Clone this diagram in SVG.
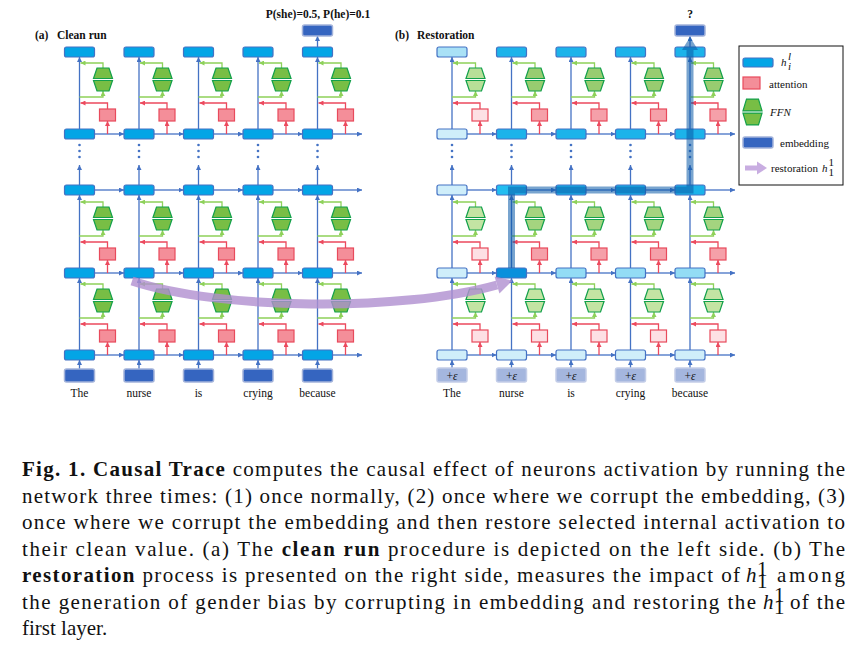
<svg xmlns="http://www.w3.org/2000/svg" xmlns:xlink="http://www.w3.org/1999/xlink" width="863" height="652" viewBox="0 0 863 652">
<style>
.cb{stroke:#4472c4;stroke-width:1.3;fill:none;marker-end:url(#ab)}
.cr{stroke:#ec4a5e;stroke-width:1.3;fill:none;marker-end:url(#ar)}
.cg{stroke:#8ed15a;stroke-width:1.3;fill:none;marker-end:url(#ag)}
.h{stroke:#4472c4;stroke-width:1.2}
.hL{fill:#03a5e6}.hR{fill:#1cb3ea}.hP{fill:#cfeefa}.hA{fill:#a9e1f6}.hM{fill:#93dcf5}.hS{fill:#0a90dc}.hC{fill:#22bdf0}
.emb{fill:#3565c0;stroke:#a3b3da;stroke-width:1.5}
.eps{fill:#a4b6de;stroke:#c3cde8;stroke-width:1.5}
.att{stroke:#e84a5c;stroke-width:1.2}
.aL{fill:#f48e99}.aP{fill:#fde0e4}.aM{fill:#f5a0a9}
.ffn{stroke:#12a04a;stroke-width:1.2}
.fL{fill:#78be45}.fP{fill:#c3e4a3}.fM{fill:#a4d47f}.fT{fill:#b8df98}.fN{fill:#98cc70}
.dot{fill:#4472c4}
.lbl{font-family:"Liberation Serif",serif;font-size:11.5px;fill:#111;text-anchor:middle}
.ttl{font-family:"Liberation Serif",serif;font-size:11.5px;font-weight:bold;fill:#111}
.lg{font-family:"Liberation Serif",serif;font-size:11px;fill:#111}
.cap{font-family:"Liberation Serif",serif;font-size:21px;fill:#111}
.b{font-weight:bold}
.i{font-style:italic}
</style>
<defs>
<marker id="ab" viewBox="0 0 6 6" refX="6" refY="3" markerWidth="5" markerHeight="5" markerUnits="userSpaceOnUse" orient="auto"><path d="M0,0L6,3L0,6z" fill="#4472c4"/></marker>
<marker id="ar" viewBox="0 0 6 6" refX="6" refY="3" markerWidth="5" markerHeight="5" markerUnits="userSpaceOnUse" orient="auto"><path d="M0,0L6,3L0,6z" fill="#ec4a5e"/></marker>
<marker id="ag" viewBox="0 0 6 6" refX="6" refY="3" markerWidth="5" markerHeight="5" markerUnits="userSpaceOnUse" orient="auto"><path d="M0,0L6,3L0,6z" fill="#8ed15a"/></marker>
<path id="ffn" d="M-6,-11.5H6L9.5,-1H-9.5Z M-9.5,1H9.5L6,11.5H-6Z"/>
</defs>
<rect width="863" height="652" fill="#fff"/>

<!-- titles -->
<text class="ttl" x="35" y="39">(a)</text><text class="ttl" x="57" y="39">Clean run</text>
<text class="ttl" x="395" y="39">(b)</text><text class="ttl" x="417" y="39">Restoration</text>
<text class="ttl" x="318" y="18" text-anchor="middle" font-size="11">P(she)=0.5, P(he)=0.1</text>
<text class="ttl" x="690" y="18" text-anchor="middle">?</text>

<g id="connectors">
<!-- left verticals -->
<path class="cb" d="M79.5 369V360"/><path class="cb" d="M79.5 350V278"/><path class="cb" d="M79.5 268V195"/><path class="cb" d="M79.5 185V165"/><path class="cb" d="M79.5 129V57"/>
<path class="cb" d="M139 369V360"/><path class="cb" d="M139 350V278"/><path class="cb" d="M139 268V195"/><path class="cb" d="M139 185V165"/><path class="cb" d="M139 129V57"/>
<path class="cb" d="M198.5 369V360"/><path class="cb" d="M198.5 350V278"/><path class="cb" d="M198.5 268V195"/><path class="cb" d="M198.5 185V165"/><path class="cb" d="M198.5 129V57"/>
<path class="cb" d="M258 369V360"/><path class="cb" d="M258 350V278"/><path class="cb" d="M258 268V195"/><path class="cb" d="M258 185V165"/><path class="cb" d="M258 129V57"/>
<path class="cb" d="M317.5 369V360"/><path class="cb" d="M317.5 350V278"/><path class="cb" d="M317.5 268V195"/><path class="cb" d="M317.5 185V165"/><path class="cb" d="M317.5 129V57"/><path class="cb" d="M317.5 47V36"/>
<!-- left horizontals -->
<path class="cb" d="M94.5 134H124"/><path class="cb" d="M154 134H183.5"/><path class="cb" d="M213.5 134H243"/><path class="cb" d="M273 134H302.5"/><path class="cb" d="M332.5 134H362"/>
<path class="cb" d="M94.5 190H124"/><path class="cb" d="M154 190H183.5"/><path class="cb" d="M213.5 190H243"/><path class="cb" d="M273 190H302.5"/><path class="cb" d="M332.5 190H362"/>
<path class="cb" d="M94.5 273H124"/><path class="cb" d="M154 273H183.5"/><path class="cb" d="M213.5 273H243"/><path class="cb" d="M273 273H302.5"/><path class="cb" d="M332.5 273H362"/>
<path class="cb" d="M94.5 355H124"/><path class="cb" d="M154 355H183.5"/><path class="cb" d="M213.5 355H243"/><path class="cb" d="M273 355H302.5"/><path class="cb" d="M332.5 355H362"/>
<!-- left layer connectors col1 -->
<path class="cr" d="M107.5 355V342"/><path class="cr" d="M107.5 330V324H80.5"/><path class="cg" d="M79.5 318H103V312"/><path class="cg" d="M103 289V284H80.5"/>
<path class="cr" d="M107.5 273V260"/><path class="cr" d="M107.5 248V242H80.5"/><path class="cg" d="M79.5 236H103V230"/><path class="cg" d="M103 207V202H80.5"/>
<path class="cr" d="M107.5 134V121"/><path class="cr" d="M107.5 109V103H80.5"/><path class="cg" d="M79.5 97H103V91"/><path class="cg" d="M103 68V63H80.5"/>
<!-- col2 -->
<path class="cr" d="M167 355V342"/><path class="cr" d="M167 330V324H140"/><path class="cg" d="M139 318H162.5V312"/><path class="cg" d="M162.5 289V284H140"/>
<path class="cr" d="M167 273V260"/><path class="cr" d="M167 248V242H140"/><path class="cg" d="M139 236H162.5V230"/><path class="cg" d="M162.5 207V202H140"/>
<path class="cr" d="M167 134V121"/><path class="cr" d="M167 109V103H140"/><path class="cg" d="M139 97H162.5V91"/><path class="cg" d="M162.5 68V63H140"/>
<!-- col3 -->
<path class="cr" d="M226.5 355V342"/><path class="cr" d="M226.5 330V324H199.5"/><path class="cg" d="M198.5 318H222V312"/><path class="cg" d="M222 289V284H199.5"/>
<path class="cr" d="M226.5 273V260"/><path class="cr" d="M226.5 248V242H199.5"/><path class="cg" d="M198.5 236H222V230"/><path class="cg" d="M222 207V202H199.5"/>
<path class="cr" d="M226.5 134V121"/><path class="cr" d="M226.5 109V103H199.5"/><path class="cg" d="M198.5 97H222V91"/><path class="cg" d="M222 68V63H199.5"/>
<!-- col4 -->
<path class="cr" d="M286 355V342"/><path class="cr" d="M286 330V324H259"/><path class="cg" d="M258 318H281.5V312"/><path class="cg" d="M281.5 289V284H259"/>
<path class="cr" d="M286 273V260"/><path class="cr" d="M286 248V242H259"/><path class="cg" d="M258 236H281.5V230"/><path class="cg" d="M281.5 207V202H259"/>
<path class="cr" d="M286 134V121"/><path class="cr" d="M286 109V103H259"/><path class="cg" d="M258 97H281.5V91"/><path class="cg" d="M281.5 68V63H259"/>
<!-- col5 -->
<path class="cr" d="M345.5 355V342"/><path class="cr" d="M345.5 330V324H318.5"/><path class="cg" d="M317.5 318H341V312"/><path class="cg" d="M341 289V284H318.5"/>
<path class="cr" d="M345.5 273V260"/><path class="cr" d="M345.5 248V242H318.5"/><path class="cg" d="M317.5 236H341V230"/><path class="cg" d="M341 207V202H318.5"/>
<path class="cr" d="M345.5 134V121"/><path class="cr" d="M345.5 109V103H318.5"/><path class="cg" d="M317.5 97H341V91"/><path class="cg" d="M341 68V63H318.5"/>

<!-- right verticals -->
<path class="cb" d="M452 368V360"/><path class="cb" d="M452 350V278"/><path class="cb" d="M452 268V195"/><path class="cb" d="M452 185V165"/><path class="cb" d="M452 129V57"/>
<path class="cb" d="M511.5 368V360"/><path class="cb" d="M511.5 350V278"/><path class="cb" d="M511.5 268V195"/><path class="cb" d="M511.5 185V165"/><path class="cb" d="M511.5 129V57"/>
<path class="cb" d="M571 368V360"/><path class="cb" d="M571 350V278"/><path class="cb" d="M571 268V195"/><path class="cb" d="M571 185V165"/><path class="cb" d="M571 129V57"/>
<path class="cb" d="M630.5 368V360"/><path class="cb" d="M630.5 350V278"/><path class="cb" d="M630.5 268V195"/><path class="cb" d="M630.5 185V165"/><path class="cb" d="M630.5 129V57"/>
<path class="cb" d="M690 368V360"/><path class="cb" d="M690 350V278"/><path class="cb" d="M690 268V195"/><path class="cb" d="M690 185V165"/><path class="cb" d="M690 129V57"/><path class="cb" d="M690 47V36"/>
<!-- right horizontals -->
<path class="cb" d="M467 134H496.5"/><path class="cb" d="M526.5 134H556"/><path class="cb" d="M586 134H615.5"/><path class="cb" d="M645.5 134H675"/><path class="cb" d="M705 134H735"/>
<path class="cb" d="M467 190H496.5"/><path class="cb" d="M526.5 190H556"/><path class="cb" d="M586 190H615.5"/><path class="cb" d="M645.5 190H675"/><path class="cb" d="M705 190H735"/>
<path class="cb" d="M467 273H496.5"/><path class="cb" d="M526.5 273H556"/><path class="cb" d="M586 273H615.5"/><path class="cb" d="M645.5 273H675"/><path class="cb" d="M705 273H735"/>
<path class="cb" d="M467 355H496.5"/><path class="cb" d="M526.5 355H556"/><path class="cb" d="M586 355H615.5"/><path class="cb" d="M645.5 355H675"/><path class="cb" d="M705 355H735"/>
<!-- right col1 -->
<path class="cr" d="M480 355V342"/><path class="cr" d="M480 330V324H453"/><path class="cg" d="M452 318H475.5V312"/><path class="cg" d="M475.5 289V284H453"/>
<path class="cr" d="M480 273V260"/><path class="cr" d="M480 248V242H453"/><path class="cg" d="M452 236H475.5V230"/><path class="cg" d="M475.5 207V202H453"/>
<path class="cr" d="M480 134V121"/><path class="cr" d="M480 109V103H453"/><path class="cg" d="M452 97H475.5V91"/><path class="cg" d="M475.5 68V63H453"/>
<!-- right col2 -->
<path class="cr" d="M539.5 355V342"/><path class="cr" d="M539.5 330V324H512.5"/><path class="cg" d="M511.5 318H535V312"/><path class="cg" d="M535 289V284H512.5"/>
<path class="cr" d="M539.5 273V260"/><path class="cr" d="M539.5 248V242H512.5"/><path class="cg" d="M511.5 236H535V230"/><path class="cg" d="M535 207V202H512.5"/>
<path class="cr" d="M539.5 134V121"/><path class="cr" d="M539.5 109V103H512.5"/><path class="cg" d="M511.5 97H535V91"/><path class="cg" d="M535 68V63H512.5"/>
<!-- right col3 -->
<path class="cr" d="M599 355V342"/><path class="cr" d="M599 330V324H572"/><path class="cg" d="M571 318H594.5V312"/><path class="cg" d="M594.5 289V284H572"/>
<path class="cr" d="M599 273V260"/><path class="cr" d="M599 248V242H572"/><path class="cg" d="M571 236H594.5V230"/><path class="cg" d="M594.5 207V202H572"/>
<path class="cr" d="M599 134V121"/><path class="cr" d="M599 109V103H572"/><path class="cg" d="M571 97H594.5V91"/><path class="cg" d="M594.5 68V63H572"/>
<!-- right col4 -->
<path class="cr" d="M658.5 355V342"/><path class="cr" d="M658.5 330V324H631.5"/><path class="cg" d="M630.5 318H654V312"/><path class="cg" d="M654 289V284H631.5"/>
<path class="cr" d="M658.5 273V260"/><path class="cr" d="M658.5 248V242H631.5"/><path class="cg" d="M630.5 236H654V230"/><path class="cg" d="M654 207V202H631.5"/>
<path class="cr" d="M658.5 134V121"/><path class="cr" d="M658.5 109V103H631.5"/><path class="cg" d="M630.5 97H654V91"/><path class="cg" d="M654 68V63H631.5"/>
<!-- right col5 -->
<path class="cr" d="M718 355V342"/><path class="cr" d="M718 330V324H691"/><path class="cg" d="M690 318H713.5V312"/><path class="cg" d="M713.5 289V284H691"/>
<path class="cr" d="M718 273V260"/><path class="cr" d="M718 248V242H691"/><path class="cg" d="M690 236H713.5V230"/><path class="cg" d="M713.5 207V202H691"/>
<path class="cr" d="M718 134V121"/><path class="cr" d="M718 109V103H691"/><path class="cg" d="M690 97H713.5V91"/><path class="cg" d="M713.5 68V63H691"/>
</g>

<g id="dots">
<circle class="dot" cx="79.5" cy="145" r="1.3"/><circle class="dot" cx="79.5" cy="151" r="1.3"/><circle class="dot" cx="79.5" cy="157" r="1.3"/>
<circle class="dot" cx="139" cy="145" r="1.3"/><circle class="dot" cx="139" cy="151" r="1.3"/><circle class="dot" cx="139" cy="157" r="1.3"/>
<circle class="dot" cx="198.5" cy="145" r="1.3"/><circle class="dot" cx="198.5" cy="151" r="1.3"/><circle class="dot" cx="198.5" cy="157" r="1.3"/>
<circle class="dot" cx="258" cy="145" r="1.3"/><circle class="dot" cx="258" cy="151" r="1.3"/><circle class="dot" cx="258" cy="157" r="1.3"/>
<circle class="dot" cx="317.5" cy="145" r="1.3"/><circle class="dot" cx="317.5" cy="151" r="1.3"/><circle class="dot" cx="317.5" cy="157" r="1.3"/>
<circle class="dot" cx="452" cy="145" r="1.3"/><circle class="dot" cx="452" cy="151" r="1.3"/><circle class="dot" cx="452" cy="157" r="1.3"/>
<circle class="dot" cx="511.5" cy="145" r="1.3"/><circle class="dot" cx="511.5" cy="151" r="1.3"/><circle class="dot" cx="511.5" cy="157" r="1.3"/>
<circle class="dot" cx="571" cy="145" r="1.3"/><circle class="dot" cx="571" cy="151" r="1.3"/><circle class="dot" cx="571" cy="157" r="1.3"/>
<circle class="dot" cx="630.5" cy="145" r="1.3"/><circle class="dot" cx="630.5" cy="151" r="1.3"/><circle class="dot" cx="630.5" cy="157" r="1.3"/>
<circle class="dot" cx="690" cy="145" r="1.3"/><circle class="dot" cx="690" cy="151" r="1.3"/><circle class="dot" cx="690" cy="157" r="1.3"/>
</g>

<!-- LEFT PANEL NODES -->
<g id="L-out"><rect class="emb" x="302.5" y="25" width="30" height="11" rx="2"/></g>
<g id="L-hA1"><rect class="h hL" x="64.5" y="47" width="30" height="10" rx="2"/></g>
<g id="L-hA2"><rect class="h hL" x="124" y="47" width="30" height="10" rx="2"/></g>
<g id="L-hA3"><rect class="h hL" x="183.5" y="47" width="30" height="10" rx="2"/></g>
<g id="L-hA4"><rect class="h hL" x="243" y="47" width="30" height="10" rx="2"/></g>
<g id="L-hA5"><rect class="h hL" x="302.5" y="47" width="30" height="10" rx="2"/></g>
<g id="L-hB1"><rect class="h hL" x="64.5" y="129" width="30" height="10" rx="2"/></g>
<g id="L-hB2"><rect class="h hL" x="124" y="129" width="30" height="10" rx="2"/></g>
<g id="L-hB3"><rect class="h hL" x="183.5" y="129" width="30" height="10" rx="2"/></g>
<g id="L-hB4"><rect class="h hL" x="243" y="129" width="30" height="10" rx="2"/></g>
<g id="L-hB5"><rect class="h hL" x="302.5" y="129" width="30" height="10" rx="2"/></g>
<g id="L-hC1"><rect class="h hL" x="64.5" y="185" width="30" height="10" rx="2"/></g>
<g id="L-hC2"><rect class="h hL" x="124" y="185" width="30" height="10" rx="2"/></g>
<g id="L-hC3"><rect class="h hL" x="183.5" y="185" width="30" height="10" rx="2"/></g>
<g id="L-hC4"><rect class="h hL" x="243" y="185" width="30" height="10" rx="2"/></g>
<g id="L-hC5"><rect class="h hL" x="302.5" y="185" width="30" height="10" rx="2"/></g>
<g id="L-hD1"><rect class="h hL" x="64.5" y="268" width="30" height="10" rx="2"/></g>
<g id="L-hD2"><rect class="h hL" x="124" y="268" width="30" height="10" rx="2"/></g>
<g id="L-hD3"><rect class="h hL" x="183.5" y="268" width="30" height="10" rx="2"/></g>
<g id="L-hD4"><rect class="h hL" x="243" y="268" width="30" height="10" rx="2"/></g>
<g id="L-hD5"><rect class="h hL" x="302.5" y="268" width="30" height="10" rx="2"/></g>
<g id="L-hE1"><rect class="h hL" x="64.5" y="350" width="30" height="10" rx="2"/></g>
<g id="L-hE2"><rect class="h hL" x="124" y="350" width="30" height="10" rx="2"/></g>
<g id="L-hE3"><rect class="h hL" x="183.5" y="350" width="30" height="10" rx="2"/></g>
<g id="L-hE4"><rect class="h hL" x="243" y="350" width="30" height="10" rx="2"/></g>
<g id="L-hE5"><rect class="h hL" x="302.5" y="350" width="30" height="10" rx="2"/></g>
<g id="L-emb1"><rect class="emb" x="64.5" y="369" width="30" height="13" rx="2"/><text class="lbl" x="79.5" y="397">The</text></g>
<g id="L-emb2"><rect class="emb" x="124" y="369" width="30" height="13" rx="2"/><text class="lbl" x="139" y="397">nurse</text></g>
<g id="L-emb3"><rect class="emb" x="183.5" y="369" width="30" height="13" rx="2"/><text class="lbl" x="198.5" y="397">is</text></g>
<g id="L-emb4"><rect class="emb" x="243" y="369" width="30" height="13" rx="2"/><text class="lbl" x="258" y="397">crying</text></g>
<g id="L-emb5"><rect class="emb" x="302.5" y="369" width="30" height="13" rx="2"/><text class="lbl" x="317.5" y="397">because</text></g>
<!-- left attention -->
<g id="L-att1-1"><rect class="att aL" x="99.5" y="330" width="16" height="12"/></g>
<g id="L-att1-2"><rect class="att aL" x="159" y="330" width="16" height="12"/></g>
<g id="L-att1-3"><rect class="att aL" x="218.5" y="330" width="16" height="12"/></g>
<g id="L-att1-4"><rect class="att aL" x="278" y="330" width="16" height="12"/></g>
<g id="L-att1-5"><rect class="att aL" x="337.5" y="330" width="16" height="12"/></g>
<g id="L-att2-1"><rect class="att aL" x="99.5" y="248" width="16" height="12"/></g>
<g id="L-att2-2"><rect class="att aL" x="159" y="248" width="16" height="12"/></g>
<g id="L-att2-3"><rect class="att aL" x="218.5" y="248" width="16" height="12"/></g>
<g id="L-att2-4"><rect class="att aL" x="278" y="248" width="16" height="12"/></g>
<g id="L-att2-5"><rect class="att aL" x="337.5" y="248" width="16" height="12"/></g>
<g id="L-att3-1"><rect class="att aL" x="99.5" y="109" width="16" height="12"/></g>
<g id="L-att3-2"><rect class="att aL" x="159" y="109" width="16" height="12"/></g>
<g id="L-att3-3"><rect class="att aL" x="218.5" y="109" width="16" height="12"/></g>
<g id="L-att3-4"><rect class="att aL" x="278" y="109" width="16" height="12"/></g>
<g id="L-att3-5"><rect class="att aL" x="337.5" y="109" width="16" height="12"/></g>
<!-- left FFN -->
<g id="L-ffn1-1"><use href="#ffn" class="ffn fL" x="103" y="300.5"/></g>
<g id="L-ffn1-2"><use href="#ffn" class="ffn fL" x="162.5" y="300.5"/></g>
<g id="L-ffn1-3"><use href="#ffn" class="ffn fL" x="222" y="300.5"/></g>
<g id="L-ffn1-4"><use href="#ffn" class="ffn fL" x="281.5" y="300.5"/></g>
<g id="L-ffn1-5"><use href="#ffn" class="ffn fL" x="341" y="300.5"/></g>
<g id="L-ffn2-1"><use href="#ffn" class="ffn fL" x="103" y="218.5"/></g>
<g id="L-ffn2-2"><use href="#ffn" class="ffn fL" x="162.5" y="218.5"/></g>
<g id="L-ffn2-3"><use href="#ffn" class="ffn fL" x="222" y="218.5"/></g>
<g id="L-ffn2-4"><use href="#ffn" class="ffn fL" x="281.5" y="218.5"/></g>
<g id="L-ffn2-5"><use href="#ffn" class="ffn fL" x="341" y="218.5"/></g>
<g id="L-ffn3-1"><use href="#ffn" class="ffn fL" x="103" y="79.5"/></g>
<g id="L-ffn3-2"><use href="#ffn" class="ffn fL" x="162.5" y="79.5"/></g>
<g id="L-ffn3-3"><use href="#ffn" class="ffn fL" x="222" y="79.5"/></g>
<g id="L-ffn3-4"><use href="#ffn" class="ffn fL" x="281.5" y="79.5"/></g>
<g id="L-ffn3-5"><use href="#ffn" class="ffn fL" x="341" y="79.5"/></g>

<!-- RIGHT PANEL NODES -->
<g id="R-out"><rect class="emb" x="675" y="25" width="30" height="11" rx="2"/></g>
<g id="R-hA1"><rect class="h hA" x="437" y="47" width="30" height="10" rx="2"/></g>
<g id="R-hA2"><rect class="h hR" x="496.5" y="47" width="30" height="10" rx="2"/></g>
<g id="R-hA3"><rect class="h hR" x="556" y="47" width="30" height="10" rx="2"/></g>
<g id="R-hA4"><rect class="h hR" x="615.5" y="47" width="30" height="10" rx="2"/></g>
<g id="R-hA5"><rect class="h hR" x="675" y="47" width="30" height="10" rx="2"/></g>
<g id="R-hB1"><rect class="h hP" x="437" y="129" width="30" height="10" rx="2"/></g>
<g id="R-hB2"><rect class="h hR" x="496.5" y="129" width="30" height="10" rx="2"/></g>
<g id="R-hB3"><rect class="h hR" x="556" y="129" width="30" height="10" rx="2"/></g>
<g id="R-hB4"><rect class="h hR" x="615.5" y="129" width="30" height="10" rx="2"/></g>
<g id="R-hB5"><rect class="h hR" x="675" y="129" width="30" height="10" rx="2"/></g>
<g id="R-hC1"><rect class="h hP" x="437" y="185" width="30" height="10" rx="2"/></g>
<g id="R-hC2"><rect class="h hC" x="496.5" y="185" width="30" height="10" rx="2"/></g>
<g id="R-hC3"><rect class="h hR" x="556" y="185" width="30" height="10" rx="2"/></g>
<g id="R-hC4"><rect class="h hR" x="615.5" y="185" width="30" height="10" rx="2"/></g>
<g id="R-hC5"><rect class="h hR" x="675" y="185" width="30" height="10" rx="2"/></g>
<g id="R-hD1"><rect class="h hP" x="437" y="268" width="30" height="10" rx="2"/></g>
<g id="R-hD2"><rect class="h hS" x="496.5" y="268" width="30" height="10" rx="2"/></g>
<g id="R-hD3"><rect class="h hM" x="556" y="268" width="30" height="10" rx="2"/></g>
<g id="R-hD4"><rect class="h hM" x="615.5" y="268" width="30" height="10" rx="2"/></g>
<g id="R-hD5"><rect class="h hM" x="675" y="268" width="30" height="10" rx="2"/></g>
<g id="R-hE1"><rect class="h hP" x="437" y="350" width="30" height="10" rx="2"/></g>
<g id="R-hE2"><rect class="h hP" x="496.5" y="350" width="30" height="10" rx="2"/></g>
<g id="R-hE3"><rect class="h hP" x="556" y="350" width="30" height="10" rx="2"/></g>
<g id="R-hE4"><rect class="h hP" x="615.5" y="350" width="30" height="10" rx="2"/></g>
<g id="R-hE5"><rect class="h hP" x="675" y="350" width="30" height="10" rx="2"/></g>
<g id="R-emb1"><rect class="eps" x="437" y="368" width="30" height="14" rx="2"/><text class="lbl" x="452" y="379.5" font-size="12">+<tspan class="i">ε</tspan></text><text class="lbl" x="452" y="397">The</text></g>
<g id="R-emb2"><rect class="eps" x="496.5" y="368" width="30" height="14" rx="2"/><text class="lbl" x="511.5" y="379.5" font-size="12">+<tspan class="i">ε</tspan></text><text class="lbl" x="511.5" y="397">nurse</text></g>
<g id="R-emb3"><rect class="eps" x="556" y="368" width="30" height="14" rx="2"/><text class="lbl" x="571" y="379.5" font-size="12">+<tspan class="i">ε</tspan></text><text class="lbl" x="571" y="397">is</text></g>
<g id="R-emb4"><rect class="eps" x="615.5" y="368" width="30" height="14" rx="2"/><text class="lbl" x="630.5" y="379.5" font-size="12">+<tspan class="i">ε</tspan></text><text class="lbl" x="630.5" y="397">crying</text></g>
<g id="R-emb5"><rect class="eps" x="675" y="368" width="30" height="14" rx="2"/><text class="lbl" x="690" y="379.5" font-size="12">+<tspan class="i">ε</tspan></text><text class="lbl" x="690" y="397">because</text></g>
<!-- right attention -->
<g id="R-att1-1"><rect class="att aP" x="472" y="330" width="16" height="12"/></g>
<g id="R-att1-2"><rect class="att aP" x="531.5" y="330" width="16" height="12"/></g>
<g id="R-att1-3"><rect class="att aP" x="591" y="330" width="16" height="12"/></g>
<g id="R-att1-4"><rect class="att aP" x="650.5" y="330" width="16" height="12"/></g>
<g id="R-att1-5"><rect class="att aP" x="710" y="330" width="16" height="12"/></g>
<g id="R-att2-1"><rect class="att aP" x="472" y="248" width="16" height="12"/></g>
<g id="R-att2-2"><rect class="att aM" x="531.5" y="248" width="16" height="12"/></g>
<g id="R-att2-3"><rect class="att aM" x="591" y="248" width="16" height="12"/></g>
<g id="R-att2-4"><rect class="att aM" x="650.5" y="248" width="16" height="12"/></g>
<g id="R-att2-5"><rect class="att aM" x="710" y="248" width="16" height="12"/></g>
<g id="R-att3-1"><rect class="att aP" x="472" y="109" width="16" height="12"/></g>
<g id="R-att3-2"><rect class="att aM" x="531.5" y="109" width="16" height="12"/></g>
<g id="R-att3-3"><rect class="att aM" x="591" y="109" width="16" height="12"/></g>
<g id="R-att3-4"><rect class="att aM" x="650.5" y="109" width="16" height="12"/></g>
<g id="R-att3-5"><rect class="att aM" x="710" y="109" width="16" height="12"/></g>
<!-- right FFN -->
<g id="R-ffn1-1"><use href="#ffn" class="ffn fP" x="475.5" y="300.5"/></g>
<g id="R-ffn1-2"><use href="#ffn" class="ffn fP" x="535" y="300.5"/></g>
<g id="R-ffn1-3"><use href="#ffn" class="ffn fP" x="594.5" y="300.5"/></g>
<g id="R-ffn1-4"><use href="#ffn" class="ffn fP" x="654" y="300.5"/></g>
<g id="R-ffn1-5"><use href="#ffn" class="ffn fP" x="713.5" y="300.5"/></g>
<g id="R-ffn2-1"><use href="#ffn" class="ffn fP" x="475.5" y="218.5"/></g>
<g id="R-ffn2-2"><use href="#ffn" class="ffn fM" x="535" y="218.5"/></g>
<g id="R-ffn2-3"><use href="#ffn" class="ffn fM" x="594.5" y="218.5"/></g>
<g id="R-ffn2-4"><use href="#ffn" class="ffn fM" x="654" y="218.5"/></g>
<g id="R-ffn2-5"><use href="#ffn" class="ffn fM" x="713.5" y="218.5"/></g>
<g id="R-ffn3-1"><use href="#ffn" class="ffn fT" x="475.5" y="79.5"/></g>
<g id="R-ffn3-2"><use href="#ffn" class="ffn fN" x="535" y="79.5"/></g>
<g id="R-ffn3-3"><use href="#ffn" class="ffn fN" x="594.5" y="79.5"/></g>
<g id="R-ffn3-4"><use href="#ffn" class="ffn fN" x="654" y="79.5"/></g>
<g id="R-ffn3-5"><use href="#ffn" class="ffn fN" x="713.5" y="79.5"/></g>

<!-- restoration path highlight -->
<g id="highlight" opacity="0.55" fill="#0a5aa8">
<path d="M511.5 268V190H690V50" fill="none" stroke="#0a5aa8" stroke-width="7" stroke-linejoin="miter"/>
<polygon points="682,50 698,50 690,37"/>
</g>

<!-- purple restoration arrow -->
<g id="restore-arrow" opacity="0.8" fill="#b08fd0">
<path d="M132 281C220 310 400 312 497 285" fill="none" stroke="#b08fd0" stroke-width="9"/>
<polygon points="494.6,276.4 512.4,280.7 499.4,293.6"/>
</g>

<!-- legend -->
<g id="legend">
<rect x="739" y="46" width="104" height="139" fill="#fff" stroke="#111" stroke-width="1"/>
<rect class="h hL" x="743" y="58" width="30" height="9" rx="2"/>
<text class="lg i" x="781" y="66" font-size="12">h</text>
<text class="lg i" x="788" y="60" font-size="6.5">l</text>
<text class="lg i" x="788" y="70" font-size="6.5">i</text>
<rect class="att aL" x="743" y="77" width="17" height="12"/>
<text class="lg" x="769" y="88">attention</text>
<use href="#ffn" class="ffn fL" transform="translate(752.5 112) scale(1 1.12)"/>
<text class="lg i" x="770" y="116">FFN</text>
<rect class="emb" x="743" y="137" width="30" height="11" rx="2"/>
<text class="lg" x="780" y="147">embedding</text>
<g opacity="0.85" fill="#bf9fdc"><rect x="745" y="165.5" width="13" height="5"/><polygon points="757,161.5 767,168 757,174.5"/></g>
<text class="lg" x="771" y="172" font-size="10.5">restoration</text>
<text class="lg i" x="822" y="172" font-size="12">h</text>
<text class="lg" x="828.5" y="166" font-size="6.5">1</text>
<text class="lg" x="828.5" y="176" font-size="6.5">1</text>
</g>

<!-- caption -->
<g id="caption">
<text class="cap" x="22" y="476" textLength="823" lengthAdjust="spacing"><tspan class="b">Fig. 1. Causal Trace</tspan> computes the causal effect of neurons activation by running the</text>
<text class="cap" x="22" y="502.5" textLength="823" lengthAdjust="spacing">network three times: (1) once normally, (2) once where we corrupt the embedding, (3)</text>
<text class="cap" x="22" y="529" textLength="823" lengthAdjust="spacing">once where we corrupt the embedding and then restore selected internal activation to</text>
<text class="cap" x="22" y="555.5" textLength="823" lengthAdjust="spacing">their clean value. (a) The <tspan class="b">clean run</tspan> procedure is depicted on the left side. (b) The</text>
<text class="cap" x="22" y="582" textLength="718" lengthAdjust="spacing"><tspan class="b">restoration</tspan> process is presented on the right side, measures the impact of</text>
<text class="cap i" x="746" y="582">h</text>
<text class="cap" x="757" y="575.5" font-size="11">1</text>
<text class="cap" x="757" y="587.5" font-size="11">1</text>
<text class="cap" x="777" y="582" textLength="68" lengthAdjust="spacing">among</text>
<text class="cap" x="22" y="608.5" textLength="734" lengthAdjust="spacing">the generation of gender bias by corrupting in embedding and restoring the</text>
<text class="cap i" x="763" y="608.5">h</text>
<text class="cap" x="774" y="602" font-size="11">1</text>
<text class="cap" x="774" y="614" font-size="11">1</text>
<text class="cap" x="790" y="608.5" textLength="55" lengthAdjust="spacing">of the</text>
<text class="cap" x="22" y="635">first layer.</text>
</g>
</svg>
